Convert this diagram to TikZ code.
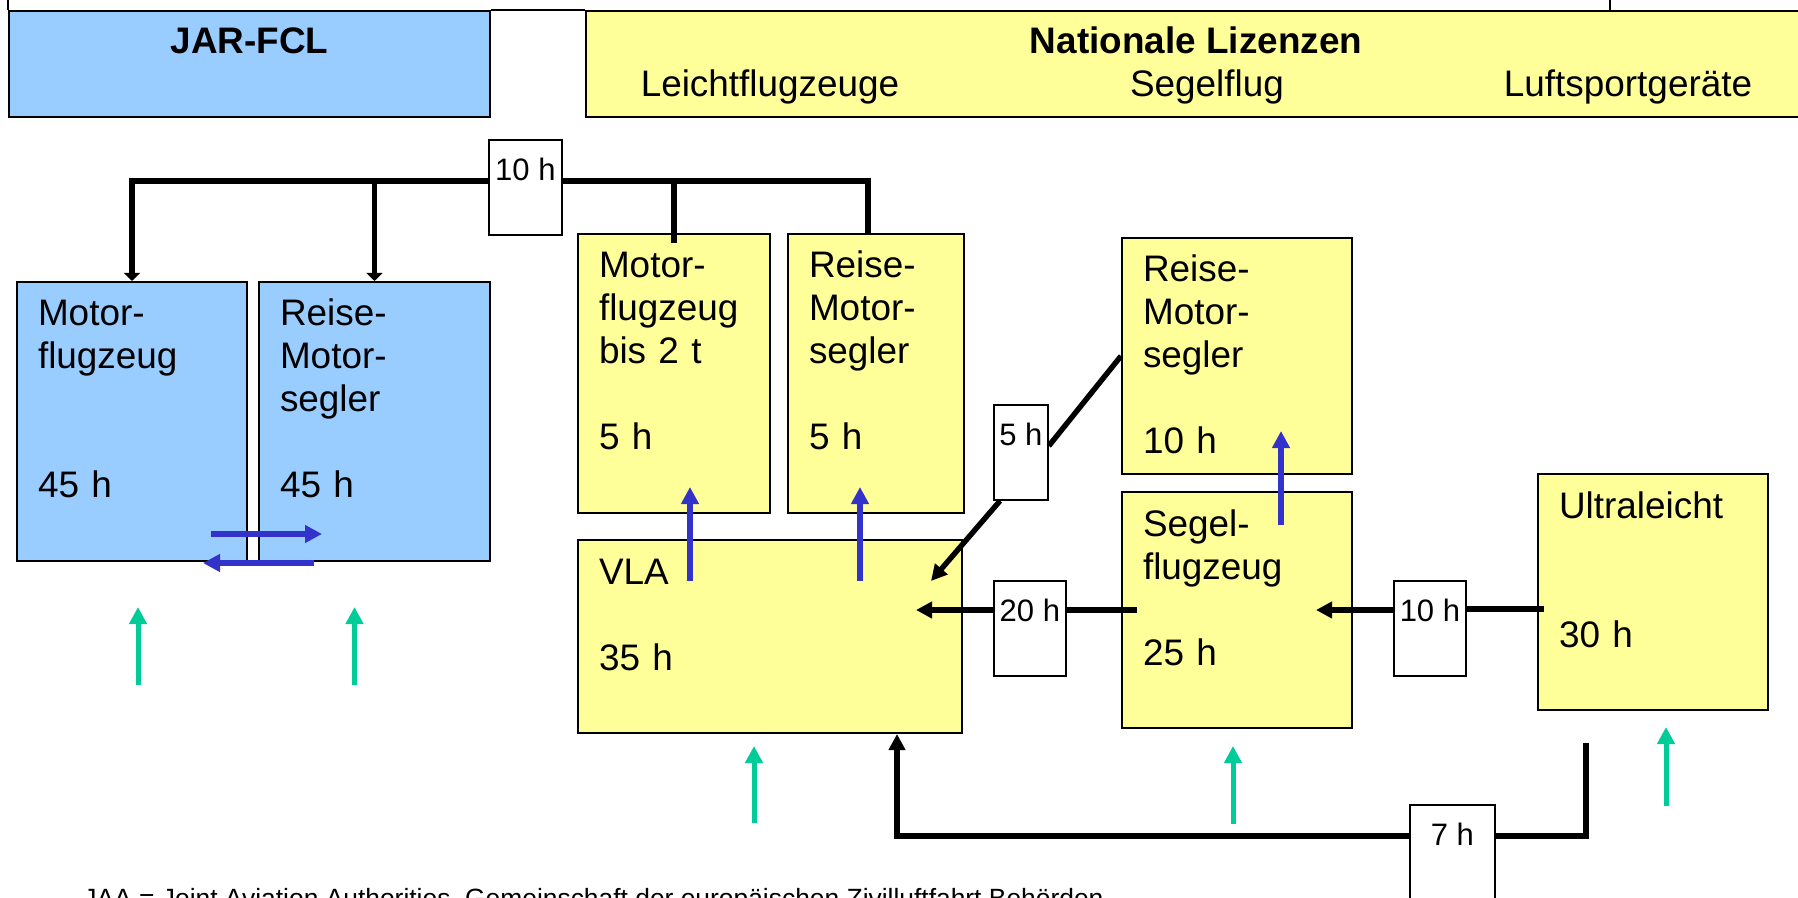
\documentclass[tikz,border=0pt]{standalone}
\usepackage{fontspec}
\setmainfont{Liberation Sans}
\usepackage{tikz}
\usetikzlibrary{arrows.meta, positioning}
\definecolor{jarblue}{RGB}{153,204,255}
\definecolor{natyellow}{RGB}{255,255,153}
\definecolor{flowblue}{RGB}{51,51,204}
\definecolor{entrygreen}{RGB}{0,204,153}

\begin{document}
\begin{tikzpicture}[
  x=0.5pt, y=-0.5pt,
  box/.style={rectangle, draw=black, line width=1pt, anchor=north west,
              inner xsep=10.5pt, inner ysep=0pt, text height=22pt, align=left,
              font=\fontsize{18.45}{21.5}\selectfont},
  jarbox/.style={box, fill=jarblue, text depth=117.5pt},
  natbox/.style={box, fill=natyellow},
  hourbox/.style={rectangle, draw=black, line width=0.9pt, fill=white, anchor=north west,
                  inner sep=0pt, text height=20.5pt, text depth=27pt,
                  font=\fontsize{15.5}{18}\selectfont},
  headbox/.style={rectangle, draw=black, line width=1pt, anchor=north west, inner sep=0pt,
                  text height=21.5pt, text depth=31.5pt,
                  font=\fontsize{18.45}{21.5}\selectfont\bfseries},
  subtitle/.style={anchor=base, inner sep=0pt, font=\fontsize{18.45}{21.5}\selectfont},
  thinline/.style={line width=0.8pt},
  conn/.style={line width=2.7pt},
  arrow/.style={conn, -{Triangle[length=8pt, width=8pt]}},
  droparrow/.style={conn, -{Triangle[length=4pt, width=8pt]}},
  blueflow/.style={line width=2.7pt, color=flowblue, -{Triangle[length=8.5pt, width=8.5pt]}},
  entryarrow/.style={line width=2.5pt, color=entrygreen, -{Triangle[length=8.5pt, width=8.5pt]}}
]
  \fill[white] (0,0) rectangle (1798,898);
  \useasboundingbox (0,0) rectangle (1798,898);

  % Header
  \node[headbox, fill=jarblue, minimum width=240.5pt] (jar) at (8,10) {JAR-FCL};
  \node[headbox, fill=natyellow, minimum width=610pt] (nl) at (585,10) {Nationale Lizenzen};
  \node[subtitle] (leicht) at (770,97) {Leichtflugzeuge};
  \node[subtitle] (segelflug) at (1207,97) {Segelflug};
  \node[subtitle] (luftsport) at (1628,97) {Luftsportgeräte};
  \draw[thinline] (jar.north west) -- (jar.north west |- 0,0);
  \draw[thinline] (jar.north east) -- (nl.north west);
  \draw[thinline] ([xshift=512.5pt]nl.north west) -- ++(0,-10);

  % JAR-FCL
  \node[jarbox, text width=94pt] (mf) at (16,281) {Motor-\\flugzeug\\[2\baselineskip]45 h};
  \node[jarbox, text width=94.5pt, right=5pt of mf] (rms) {Reise-\\Motor-\\segler\\[\baselineskip]45 h};

  % Nationale Lizenzen
  \node[natbox, text width=75pt, text depth=117.5pt] (mf2t) at (577,233) {Motor-\\flugzeug\\bis 2 t\\[\baselineskip]5 h};
  \node[natbox, text width=67pt, text depth=117.5pt, right=8pt of mf2t] (rmsn) {Reise-\\Motor-\\segler\\[\baselineskip]5 h};
  \node[natbox, text width=171pt, text depth=74.5pt, below=12.5pt of mf2t.south west, anchor=north west] (vla) {VLA\\[\baselineskip]35 h};
  \node[natbox, text width=94pt, text depth=96pt] (rmsr) at (1121,237) {Reise-\\Motor-\\segler\\[\baselineskip]10 h};
  \node[natbox, text width=94pt, text depth=96pt, below=8pt of rmsr] (seg) {Segel-\\flugzeug\\[\baselineskip]25 h};
  \node[natbox, text width=94pt, text depth=96pt] (ul) at (1537,473) {Ultraleicht\\[2\baselineskip]30 h};

  % Hours
  \node[hourbox, minimum width=36.5pt] (h10) at (488,139) {10 h};
  \node[hourbox, minimum width=27pt] (h5) at (993,404) {5 h};
  \node[hourbox, minimum width=36pt] (h20) at (993,580) {20 h};
  \node[hourbox, minimum width=36pt] (h10r) at (1393,580) {10 h};
  \node[hourbox, minimum width=42.5pt, text depth=45pt] (h7) at (1409,804) {7 h};

  \coordinate (vla-in) at ([xshift=-16pt,yshift=-21pt]vla.north east);
  \coordinate (vla-mid) at ([xshift=-23.5pt]vla.east);
  \coordinate (vla-foot) at ([xshift=63.5pt]vla.south);
  \coordinate (seg-out) at ([xshift=8pt]seg.west);
  \coordinate (seg-in) at ([xshift=-18.5pt]seg.east);
  \coordinate (ul-out) at ([xshift=3.5pt,yshift=-8.5pt]ul.west);
  \coordinate (ul-foot) at ([xshift=24.5pt,yshift=-16pt]ul.south west);

  % Credit transfers
  \draw[droparrow] (h10.base west) -| (mf.north);
  \draw[droparrow] (rms.north |- h10.base) -- (rms.north);
  \draw[conn] (h10.base east) -| ([xshift=-4pt]rmsn.north);
  \draw[conn] (mf2t.north |- h10.base) -- ([yshift=-5pt]mf2t.north);

  \draw[conn] (rmsr.west) -- (h5.base east);
  \draw[arrow] ([xshift=3.5pt]h5.south west) -- (vla-in);

  \draw[conn] (seg-out) -- (seg-out -| h20.east);
  \draw[arrow] (seg-out -| h20.west) -- (vla-mid |- seg-out);

  \draw[conn] (ul-out) -- (ul-out -| h10r.east);
  \draw[arrow] (h10r.west |- seg-in) -- (seg-in);

  \draw[conn] (ul-foot) |- ([yshift=-16pt]h7.north east);
  \draw[arrow] ([yshift=-16pt]h7.north west) -| (vla-foot);

  % Extensions
  \draw[blueflow] ([xshift=-18.5pt,yshift=14pt]mf.south east) -- ([xshift=32pt,yshift=14pt]rms.south west);
  \draw[blueflow] ([xshift=28pt,yshift=-0.5pt]rms.south west) -- ([xshift=-22.5pt,yshift=-0.5pt]mf.south east);
  \draw[blueflow] ([xshift=8pt,yshift=-33.5pt]mf2t.south) -- ([xshift=8pt,yshift=13.5pt]mf2t.south);
  \draw[blueflow] ([xshift=-8pt,yshift=-33.5pt]rmsn.south) -- ([xshift=-8pt,yshift=13.5pt]rmsn.south);
  \draw[blueflow] ([xshift=22pt,yshift=-17pt]seg.north) -- ([xshift=22pt,yshift=22pt]rmsr.south);

  % Entry
  \draw[entryarrow] ([xshift=3pt,yshift=-61.5pt]mf.south) -- ([xshift=3pt,yshift=-22.5pt]mf.south);
  \draw[entryarrow] ([xshift=-10pt,yshift=-61.5pt]rms.south) -- ([xshift=-10pt,yshift=-22.5pt]rms.south);
  \draw[entryarrow] ([xshift=-8pt,yshift=-44.5pt]vla.south) -- ([xshift=-8pt,yshift=-6pt]vla.south);
  \draw[entryarrow] ([xshift=-2pt,yshift=-47.5pt]seg.south) -- ([xshift=-2pt,yshift=-8.5pt]seg.south);
  \draw[entryarrow] ([xshift=6.5pt,yshift=-47.5pt]ul.south) -- ([xshift=6.5pt,yshift=-8pt]ul.south);

  \node[anchor=base west, inner sep=0pt, font=\fontsize{13.2}{16}\selectfont] (jaa) at (83,907)
    {JAA = Joint Aviation Authorities, Gemeinschaft der europäischen Zivilluftfahrt Behörden};
\end{tikzpicture}
\end{document}
